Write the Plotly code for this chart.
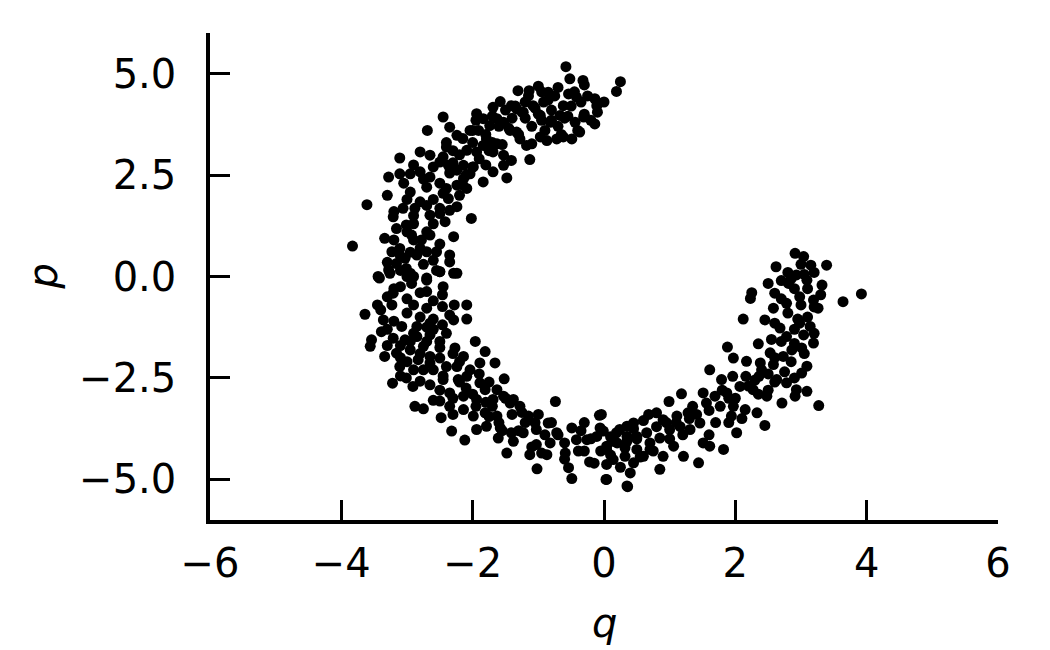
import plotly.graph_objects as go

# phase-space samples (q, p)
q_top = [-0.58, -0.52, -0.32, -0.30, 0.25, 0.19, -1.00, -1.14, -1.31, -0.85, -0.70, -0.54, -0.42,
         -0.14, -0.11, -0.14, -0.31, -0.44, -0.37, -0.49, -0.62, -0.72, -0.87, -0.97, -1.10, -1.18,
         -1.28, -1.58, -1.69, -1.41, -1.33, -1.23, -1.08, -0.97, -0.82, -0.67, -0.62, -0.92, -1.94,
         -1.84, -2.04, -1.91, -1.74, -1.63, -1.53, -1.43, -1.33, -2.45, -2.35, -2.24, -2.69, -1.79,
         -1.63, -1.84, -1.94, -2.09, -2.40, -2.80, -2.65, -3.11, -2.50, -2.37, -2.24, -2.14, -1.99,
         -1.69, -1.53, -1.41, -1.13, -1.53, -1.69, -1.48, -1.84, -2.04, -2.14, -2.09, -2.24, -2.40,
         -2.37, -2.35, -2.42, -2.65, -2.80, -2.95, -3.11, -3.28, -2.95, -2.80, -2.88, -3.06, -3.21,
         -3.16, -3.01, -2.93, -2.78, -2.65, -2.29, -2.50, -2.65, -2.24, -2.02, -3.61, -3.34, -3.23,
         -3.11, -3.03, -2.85, -2.70, -2.55, -2.35, -2.35, -3.16, -3.01, -3.28, -3.44, -2.90, -2.70,
         -2.50, -2.29, -3.83]
p_top = [5.17, 4.87, 4.83, 4.72, 4.80, 4.56, 4.69, 4.58, 4.58, 4.54, 4.66, 4.50, 4.42,
         4.38, 4.21, 3.76, 3.93, 3.80, 3.56, 3.39, 3.44, 3.39, 3.35, 3.44, 3.27, 3.23,
         3.39, 4.31, 4.17, 4.21, 4.13, 4.05, 4.21, 3.97, 3.80, 3.97, 4.21, 4.30, 4.01,
         3.89, 3.60, 3.60, 3.72, 3.89, 3.80, 3.60, 3.56, 3.93, 3.68, 3.48, 3.60, 3.39,
         3.27, 3.23, 3.07, 3.11, 3.19, 3.07, 2.99, 2.92, 2.82, 2.74, 2.62, 2.74, 2.70,
         3.07, 2.99, 2.86, 2.88, 2.74, 2.58, 2.43, 2.33, 2.53, 2.41, 2.17, 2.25, 2.17,
         1.92, 1.63, 1.35, 2.45, 2.58, 2.53, 2.53, 2.45, 2.08, 1.84, 1.68, 1.68, 1.47,
         1.18, 1.27, 1.02, 0.90, 1.02, 0.98, 1.68, 1.51, 1.72, 1.43, 1.77, 0.94, 0.61,
         0.69, 0.45, 0.53, 0.61, 0.61, 0.53, 0.36, 0.32, 0.20, 0.16, 0.00, 0.00, -0.04,
         0.12, 0.08, 0.75]

q_left = [-3.42, -3.26, -2.95, -2.93, -2.70, -2.50, -2.24, -2.70, -3.21, -2.46, -3.64, -3.40, -3.23,
          -2.90, -2.70, -2.46, -2.28, -2.09, -2.09, -2.29, -2.46, -2.65, -2.85, -3.08, -3.36, -3.39,
          -3.54, -3.56, -3.21, -3.03, -2.85, -2.65, -2.50, -2.75, -2.95, -3.16, -3.34, -3.11, -2.83,
          -2.65, -2.50, -2.27, -2.14, -1.96, -1.81, -1.66, -1.89, -2.04, -2.24, -2.40, -2.65, -3.01,
          -2.80, -2.91, -2.65, -2.45, -3.22, -2.22, -2.09, -1.89, -1.81, -1.63, -1.52, -1.53, -1.69,
          -1.94, -2.14, -2.35, -2.50, -2.88, -2.75, -2.48, -2.35, -2.14, -1.99, -1.81, -1.63, -1.43,
          -1.38, -1.28, -1.15, -1.00, -0.85, -0.72, -0.74, -1.94, -1.79, -1.58, -1.41, -1.23, -1.03,
          -2.32, -2.12, -1.61, -1.38, -1.48, -1.13, -0.87, -0.82, -1.03, -1.02, -0.59, -0.54, -0.49,
          -0.49, -0.42, -0.39, -0.22, -0.26, -0.11, -0.07, -0.06, 0.04, 0.04, 0.03, 0.19, 0.35,
          0.35, 0.32, 0.35]
p_left = [-0.04, 0.08, 0.08, -0.17, -0.09, 0.12, 0.08, -0.37, -0.41, -0.45, -0.93, -0.82, -0.70,
          -0.70, -0.78, -0.74, -0.70, -0.70, -1.05, -1.07, -1.19, -1.15, -1.23, -1.23, -1.07, -1.36,
          -1.56, -1.72, -1.52, -1.56, -1.48, -1.44, -1.60, -1.72, -1.81, -1.89, -1.97, -2.22, -2.05,
          -1.97, -2.01, -1.76, -1.97, -1.60, -1.85, -2.13, -2.13, -2.30, -2.22, -2.22, -2.13, -2.50,
          -2.58, -2.71, -2.67, -2.54, -2.63, -2.54, -2.46, -2.62, -2.79, -2.79, -2.52, -2.95, -3.03,
          -3.03, -2.95, -2.87, -3.07, -3.20, -3.26, -3.48, -3.20, -3.28, -3.44, -3.36, -3.44, -3.12,
          -3.03, -3.20, -3.44, -3.40, -3.61, -3.85, -3.08, -3.77, -3.69, -3.73, -3.85, -3.85, -3.77,
          -3.81, -4.03, -3.98, -4.06, -4.35, -4.39, -4.39, -4.10, -4.14, -4.74, -4.35, -4.71, -4.98,
          -3.73, -4.02, -4.30, -4.57, -4.02, -3.94, -3.42, -3.73, -4.18, -4.63, -5.00, -3.85, -3.69,
          -4.06, -4.43, -5.16]

q_right = [2.91, 3.04, 2.62, 3.15, 3.39, 2.50, 2.60, 2.25, 2.23, 2.81, 2.93, 3.09, 3.32,
           2.78, 2.98, 3.19, 3.26, 3.64, 3.92, 2.58, 2.45, 2.12, 2.68, 2.78, 2.98, 3.14,
           3.04, 3.19, 3.01, 2.86, 1.88, 2.35, 2.53, 2.73, 1.97, 2.17, 2.38, 2.58, 3.09,
           3.01, 1.61, 1.79, 1.96, 2.16, 2.36, 2.63, 2.78, 2.93, 3.09, 2.91, 2.71, 3.27,
           2.48, 2.27, 2.07, 1.87, 1.69, 1.51, 1.18, 1.56, 1.77, 1.97, 2.15, 2.33, 2.45,
           1.94, 2.02, 1.82, 0.99, 0.80, 0.68, 0.45, 0.24, -0.01, -0.04, 0.90, 1.11, 1.28,
           1.41, 1.46, 1.31, 1.16, 1.00, 0.85, 0.65, 0.50, 0.35, 0.14, 0.04, 0.32, 0.50,
           0.60, 0.70, 0.90, 1.06, 1.21, 1.44, 1.51, 1.61, 0.85, 0.04, 0.40, 0.36, 0.14,
           0.45]
p_right = [0.57, 0.49, 0.24, 0.28, 0.28, -0.17, -0.41, -0.40, -0.54, -0.17, 0.04, -0.09, -0.21,
           -0.66, -0.50, -0.58, -0.78, -0.62, -0.43, -0.78, -1.07, -1.05, -1.27, -1.48, -1.15, -1.23,
           -1.44, -1.64, -1.76, -1.81, -1.74, -1.66, -1.88, -1.97, -2.01, -2.09, -2.13, -2.17, -2.21,
           -2.38, -2.30, -2.54, -2.46, -2.46, -2.46, -2.54, -2.62, -2.79, -2.83, -2.95, -3.12, -3.18,
           -2.95, -2.79, -2.71, -2.87, -2.95, -2.87, -2.89, -3.12, -3.20, -3.20, -3.28, -3.36, -3.67,
           -3.44, -3.85, -4.26, -3.08, -3.36, -3.40, -3.61, -3.77, -3.81, -3.40, -3.53, -3.44, -3.36,
           -3.40, -3.61, -3.77, -3.70, -3.77, -3.98, -3.85, -3.94, -3.94, -4.06, -4.26, -4.22, -4.26,
           -4.43, -4.26, -4.43, -4.18, -4.43, -4.59, -4.10, -4.18, -4.75, -5.00, -4.84, -5.18, -4.51,
           -4.59]

# extra samples filling the dense core of the arc
q_core = [-1.2, -1.0, -0.8, -0.6, -0.5, -0.3, -1.4, -1.6, -1.1, -0.9, -0.7, -0.4, -1.5, -1.3,
          -1.8, -2.0, -1.9, -2.2, -2.3, -2.6, -2.1, -2.5, -2.7, -2.2, -2.6, -3.0, -2.9, -2.6,
          -3.0, -2.8, -2.6, -3.0, -3.2, -2.8, -2.6, -3.0, -2.8, -2.6, -2.9, -3.1, -2.7, -2.4,
          -2.3, -2.8, -2.6, -2.2, -1.9, -2.0, -1.7, -1.4, -1.2, -0.9, -0.6, -0.3, 0.1, 0.2,
          0.5, 0.8, 1.1, 1.3, 1.6, 1.9, 2.2, 2.4, 2.6, 2.7, 2.9, 2.8, 3.0, 3.1, 2.9, 2.7,
          3.2, 3.0, 2.8, 3.1, 2.6, 2.9, 2.5, 2.0, 1.7, 1.0, 0.7, -0.2, -0.7, -1.1, -1.3, -1.6,
          -1.8, -2.3, -2.5, -2.9, -3.1, -3.3, -3.3, -3.1, -2.9, -2.75, -2.4, -2.0, -1.7, -1.15,
          -0.85, -0.95, -1.25, -0.55, -0.2, 0.0, -0.45]
p_core = [4.3, 4.0, 4.1, 3.9, 4.2, 4.0, 3.9, 3.7, 3.7, 3.6, 3.7, 3.6, 4.1, 3.5,
          3.5, 3.3, 2.9, 3.0, 2.8, 2.7, 2.5, 2.3, 2.2, 2.0, 1.9, 1.9, 1.5, 1.3,
          1.1, 0.7, 0.4, 0.0, -0.3, -0.4, -0.6, -0.9, -1.0, -1.3, -1.4, -1.7, -1.6, -1.4,
          -1.9, -1.9, -2.3, -2.6, -2.4, -2.9, -3.2, -3.4, -3.6, -3.9, -4.1, -4.3, -4.4, -4.1,
          -4.0, -3.7, -3.6, -3.5, -3.3, -3.0, -2.7, -2.3, -2.0, -1.6, -1.3, -0.9, -0.7, -0.3,
          -0.3, -0.1, 0.1, 0.3, 0.1, -1.0, -2.6, -2.5, -2.8, -3.0, -3.6, -4.0, -4.1, -4.0,
          -3.9, -4.2, -3.8, -3.6, -3.1, -3.0, -2.8, -2.3, -2.0, -1.3, -0.5, 0.5, 0.9, 2.4,
          3.3, 3.6, 3.95, 4.45, 4.35, 3.85, 4.05, 3.95, 3.85, 4.3, 4.55]

q_core2 = [-1.05, -0.75, -0.25, -0.1, -0.65, -1.2, -1.45, -1.7, -1.55, -2.15, -1.95, -2.3, -2.45,
           -2.0, -1.8, -2.35, -2.9, -3.05, -2.45, -2.7, -2.5, -2.9, -3.2, -2.7, -2.5, -2.95,
           -3.2, -2.75, -3.1, -3.3, -2.45, -3.0, -3.45, -2.35, -2.7, -3.2, -2.5, -2.95, -3.3,
           -2.2, -2.45, -2.75, -3.0, -2.1, -1.75, -1.95, -2.3, -1.5, -1.25, -1.55, -1.05, -0.8,
           -0.95, -0.6, -0.35, -0.15, 0.1, 0.25, 0.55, 0.45, 0.75, 0.95, 1.2, 1.35, 1.6,
           1.8, 2.1, 2.3, 2.5, 2.75, 2.85, 2.55, 3.05, 2.9, 3.2, 2.95, 2.7, 3.2, 2.85,
           3.05, 2.6, 3.3, 2.35, 1.9, 0.6, -0.05, -0.3, -1.75, -2.6, -3.1, -2.6, -3.1,
           -2.55, -3.3, -2.15, -1.75, -1.35, -0.95, -0.35, -0.8]
p_core2 = [4.15, 4.45, 4.45, 4.05, 3.5, 3.9, 3.65, 3.3, 3.25, 3.4, 3.85, 3.1, 2.95,
           2.7, 2.75, 2.55, 2.75, 2.3, 2.05, 1.75, 1.55, 1.3, 1.6, 1.1, 0.8, 0.6,
           0.9, 0.3, 0.15, 0.35, -0.25, -0.55, -0.7, -0.95, -1.25, -1.1, -1.75, -1.6, -1.7,
           -2.1, -2.45, -2.3, -2.1, -2.75, -2.6, -3.2, -3.4, -3.0, -3.35, -3.8, -3.6, -3.6,
           -4.35, -4.5, -3.8, -4.6, -3.95, -4.7, -4.45, -3.75, -4.3, -3.6, -3.9, -3.2, -3.9,
           -2.8, -3.5, -2.55, -2.4, -2.35, -2.1, -1.55, -1.9, -1.65, -1.4, -1.05, -0.55, -0.75, -0.05,
           0.05, -1.15, -0.45, -2.9, -3.6, -3.55, -4.3, -3.6, -3.45, -3.05, -2.45, -1.05, -0.25,
           0.15, 2.0, 2.25, 3.1, 4.2, 4.55, 4.3, 3.85]

q = q_top + q_left + q_right + q_core + q_core2
p = p_top + p_left + p_right + p_core + p_core2

FONT = 'DejaVu Sans'

fig = go.Figure()
fig.add_trace(go.Scatter(
    x=q, y=p,
    mode='markers',
    marker=dict(color='black', size=11, line=dict(width=0)),
    hoverinfo='x+y',
    showlegend=False
))

axis_common = dict(
    showgrid=False, zeroline=False, automargin=False,
    showline=True, linecolor='black', linewidth=3.5,
    ticks='inside', ticklen=20, tickwidth=3, tickcolor='black',
    tickfont=dict(family=FONT, size=40, color='black'),
)

fig.update_xaxes(
    range=[-6, 6], tickvals=[-6, -4, -2, 0, 2, 4, 6],
    ticklabelstandoff=5,
    **axis_common
)
fig.update_yaxes(
    range=[-6, 6], tickvals=[-5, -2.5, 0, 2.5, 5], tickformat='.1f',
    ticklabelstandoff=22,
    **axis_common
)

# axis titles as annotations so they do not push the margins
fig.add_annotation(
    text='<i>q</i>', xref='paper', yref='paper', x=0.5, y=0,
    yanchor='middle', yshift=-103, showarrow=False,
    font=dict(family=FONT, size=40, color='black')
)
fig.add_annotation(
    text='<i>p</i>', xref='paper', yref='paper', x=0, y=0.5,
    xanchor='center', xshift=-168, textangle=-90, showarrow=False,
    font=dict(family=FONT, size=40, color='black')
)

# page body has an 8px margin, so the figure is a bit smaller than the window
fig.update_layout(
    width=1042, height=642,
    paper_bgcolor='white', plot_bgcolor='white',
    margin=dict(l=202, r=52, t=25, b=130),
    font=dict(family=FONT, color='black'),
)

fig.write_html('out.html')
